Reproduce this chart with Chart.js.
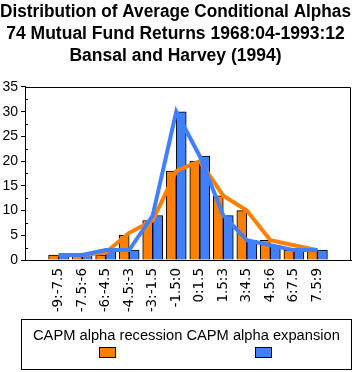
<!DOCTYPE html>
<html>
<head>
<meta charset="utf-8">
<script src="https://cdn.jsdelivr.net/npm/chart.js@4"></script>
<style>
  html, body { margin: 0; padding: 0; background: #fff; }
  #wrap { position: relative; width: 355px; height: 372px; overflow: hidden; }
  #c { position: absolute; left: 0; top: 0; }
  #legend { position: absolute; left: 21px; top: 319px; width: 331px; height: 51px; box-sizing: border-box; border: 1px solid #000; }
  #legendItems { position: absolute; left: 11px; top: 7px; display: flex; gap: 4px; white-space: nowrap; }
  .item { display: flex; flex-direction: column; align-items: center; font-family: "Liberation Sans", Arial, sans-serif; font-size: 14.7px; line-height: 17px; color: #000; }
  .sw { width: 15px; height: 9px; border: 1px solid #000; margin-top: 3px; }
</style>
</head>
<body>
<div id="wrap">
  <canvas id="c" width="355" height="372"></canvas>
  <div id="legend"><div id="legendItems"></div></div>
</div>
<script>
// ---- data ----
const titleLines = [
  "Distribution of Average Conditional Alphas",
  "74 Mutual Fund Returns 1968:04-1993:12",
  "Bansal and Harvey (1994)"
];
const xLabels = ["-9:-7.5", "-7.5:-6", "-6:-4.5", "-4.5:-3", "-3:-1.5", "-1.5:0",
                 "0:1.5", "1.5:3", "3:4.5", "4.5:6", "6:7.5", "7.5:9"];
const seriesNames = ["CAPM alpha recession", "CAPM alpha expansion"];
const recessionBars = [1, 1, 1, 5, 8, 18, 20, 13, 10, 4, 2, 2];
const expansionBars = [1, 1, 2, 2, 9, 30, 21, 9, 4, 3, 2, 2];
const recessionLine = [1, 1, 1.5, 5.5, 8, 18, 20, 13, 10, 4, 3, 2];
const expansionLine = [1, 1, 2, 2, 9, 30, 21, 9, 4, 3, 2, 2];
const yTicks = [0, 5, 10, 15, 20, 25, 30, 35];

const ORANGE = "#FF8000";
const BLUE = "#4080FF";
const FONT = "'Liberation Sans', Arial, sans-serif";

const pts = arr => arr.map((v, i) => ({ x: i, y: v }));

const framePlugin = {
  id: "frame",
  afterDraw(chart) {
    const { ctx, chartArea: a, scales } = chart;
    ctx.save();
    ctx.strokeStyle = "#000";
    ctx.lineWidth = 1;
    ctx.beginPath();
    ctx.moveTo(Math.round(a.left) + 0.5, Math.round(a.top) + 0.5);
    ctx.lineTo(Math.round(a.right) - 0.5, Math.round(a.top) + 0.5);
    ctx.lineTo(Math.round(a.right) - 0.5, Math.round(a.bottom) + 0.5);
    ctx.stroke();
    // minor ticks inside the y axis
    const y = scales.y;
    for (let i = 0; i < yTicks.length - 1; i++) {
      const v = (yTicks[i] + yTicks[i + 1]) / 2;
      const py = Math.round(y.getPixelForValue(v)) + 0.5;
      ctx.beginPath();
      ctx.moveTo(Math.round(a.left), py);
      ctx.lineTo(Math.round(a.left) + 3, py);
      ctx.stroke();
    }
    ctx.restore();
  }
};

new Chart(document.getElementById("c"), {
  type: "bar",
  data: {
    datasets: [
      { type: "bar", label: seriesNames[0], data: pts(recessionBars), backgroundColor: ORANGE, borderColor: "#000", borderWidth: 1, barThickness: 10, order: 3 },
      { type: "bar", label: seriesNames[1], data: pts(expansionBars), backgroundColor: BLUE, borderColor: "#000", borderWidth: 1, barThickness: 10, order: 4 },
      { type: "line", label: seriesNames[0], data: pts(recessionLine), borderColor: ORANGE, borderWidth: 4, pointRadius: 0, tension: 0, fill: false, order: 2 },
      { type: "line", label: seriesNames[1], data: pts(expansionLine), borderColor: BLUE, borderWidth: 4, pointRadius: 0, tension: 0, fill: false, order: 1 }
    ]
  },
  options: {
    responsive: false,
    devicePixelRatio: 1,
    animation: false,
    layout: { padding: { left: 0, right: 4, top: 0, bottom: 60 } },
    plugins: {
      legend: { display: false },
      tooltip: { enabled: false },
      title: {
        display: true,
        text: titleLines,
        color: "#000",
        font: { family: FONT, size: 17.5, weight: "bold", lineHeight: 1.257 },
        padding: { top: 1, bottom: 20 }
      }
    },
    scales: {
      x: {
        type: "linear",
        min: -0.85,
        max: 11.85,
        grid: { display: false, drawTicks: false },
        border: { display: true, color: "#000", width: 1 },
        afterBuildTicks: axis => { axis.ticks = xLabels.map((_, i) => ({ value: i })); },
        afterFit: s => { s.height = 52; },
        ticks: {
          autoSkip: false,
          minRotation: 90,
          maxRotation: 90,
          padding: 8,
          color: "#000",
          font: { family: "'DejaVu Sans', sans-serif", size: 13.5 },
          callback: v => xLabels[v]
        }
      },
      y: {
        min: 0,
        max: 35,
        afterBuildTicks: axis => { axis.ticks = yTicks.map(v => ({ value: v })); },
        afterFit: s => { s.width = 25; },
        grid: { display: true, drawOnChartArea: false, drawTicks: true, tickLength: 4, color: "#000" },
        border: { display: true, color: "#000", width: 1 },
        ticks: { padding: 3, color: "#000", font: { family: FONT, size: 14 } }
      }
    }
  },
  plugins: [framePlugin]
});

// HTML legend built from the series names
const colors = [ORANGE, BLUE];
const li = document.getElementById("legendItems");
seriesNames.forEach((name, i) => {
  const d = document.createElement("div");
  d.className = "item";
  const t = document.createElement("span");
  t.textContent = name;
  const s = document.createElement("div");
  s.className = "sw";
  s.style.background = colors[i];
  d.appendChild(t);
  d.appendChild(s);
  li.appendChild(d);
});
</script>
</body>
</html>
